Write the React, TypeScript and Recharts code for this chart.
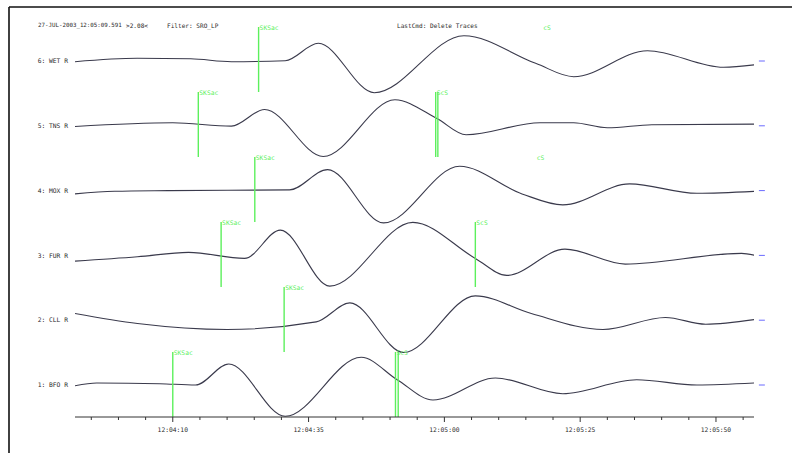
import React from 'react';
import { LineChart, Line, XAxis, YAxis, ReferenceLine } from 'recharts';

// ---- Data (time = seconds after 12:04:00, amplitude in display counts) ----
const traceNames = ['1: BFO R', '2: CLL R', '3: FUR R', '4: MOX R', '5: TNS R', '6: WET R'];

const bfoTime = [-8, -4, 7.6, 14.2, 20.3, 30.7, 44.7, 51.3, 57.9, 69.4, 81.8, 95.4, 106.5, 117.2];
const bfoAmp = [-0.7, 2, 1.3, 0, 21, -31.3, 27.7, 5.3, -15, 7, -8.7, 5.3, 0, 2];

const cllTime = [-8, 3.5, 20.0, 36.4, 42.6, 52.5, 65.7, 76.0, 89.2, 100.7, 108.1, 117.2];
const cllAmp = [6.7, -3.3, -9.3, -1.7, 17.3, -32.3, 24.3, 6.7, -9.3, 2.7, -4, 0.7];

const furTime = [-8, 3.5, 12.9, 23.2, 29.8, 38.9, 54.2, 65.7, 71.5, 82.2, 93.3, 114.7, 117.2];
const furAmp = [-5.7, -1.4, 3, -3, 25.3, -30.7, 33, -3, -20, 6.3, -8.7, 2, 0];

const moxTime = [-8, -0.7, 9.2, 31.5, 38.5, 48.8, 62.8, 74.3, 81.8, 94.1, 106.5, 117.2];
const moxAmp = [-3.3, -0.7, 0, 0.7, 21, -32.3, 24.3, -3.3, -14.3, 6.7, -2.7, -0.7];

const tnsTime = [-8, 10.0, 20.8, 26.9, 37.7, 50.9, 58.7, 64.0, 77.6, 83.8, 90.0, 98.2, 117.2];
const tnsAmp = [-0.7, 3, -0.3, 16.3, -30.7, 26, 7, -9, 3, 3, -2, 1, 1.7];

const wetTime = [-8, 3.45, 13.3, 20.8, 30.7, 36.8, 47.1, 63.6, 76.8, 83.8, 97.4, 111.4, 117.2];
const wetAmp = [-0.7, 2.7, 2.2, -0.7, 0.3, 17.7, -31.7, 25.3, -2.3, -15.7, 10.3, -6.3, -3.7];

const traceTimes = [bfoTime, cllTime, furTime, moxTime, tnsTime, wetTime];
const traceAmps = [bfoAmp, cllAmp, furAmp, moxAmp, tnsAmp, wetAmp];

// phase picks
const phaseTrace = [6, 6, 5, 5, 5, 4, 4, 3, 3, 2, 1, 1, 1];
const phaseName = ['SKSac', 'cS', 'SKSac', 'ScS', 'ScS', 'SKSac', 'cS', 'SKSac', 'ScS', 'SKSac', 'SKSac', 'ScS', 'ScS'];
const phaseTime = [25.8, 78.0, 14.7, 58.4, 58.8, 25.1, 76.8, 18.9, 65.7, 30.5, 10.0, 51.0, 51.5];
const labelOnlyPhases = ['cS'];

// time axis
const axisTicks = [-5, 0, 5, 10, 15, 20, 25, 30, 35, 40, 45, 50, 55, 60, 65, 70, 75, 80, 85, 90, 95, 100, 105, 110, 115];
const majorTickValues = [10, 35, 60, 85, 110];
const majorTickLabels = ['12:04:10', '12:04:35', '12:05:00', '12:05:25', '12:05:50'];

const headerDate = '27-JUL-2003_12:05:09.591';
const headerGain = '>2.08<';
const headerFilter = 'Filter: SRO_LP';
const headerCmd = 'LastCmd: Delete Traces';

// ---- layout constants ----
const BAND = 65;
const SPACING = 64.8;
const BASE0 = 32;
const T_MIN = -8;
const T_MAX = 117;
const baselines = traceNames.map((_, i) => BASE0 + i * SPACING);

const traceData = traceTimes.map((times, i) =>
  times.map((t, j) => ({ t, v: baselines[i] + traceAmps[i][j] }))
);

const FONT = '"DejaVu Sans Mono", monospace';
const TRACE_COLOR = '#3a3a4c';
const GREEN = '#5cf05c';
const TEXT_COLOR = '#2a2a2a';

const TimeTick = (props: any) => {
  const { x, y, payload } = props;
  const idx = majorTickValues.indexOf(payload.value);
  const major = idx >= 0;
  return (
    <g>
      <line x1={x} x2={x} y1={y} y2={y + (major ? 5 : 3)} stroke="#333" strokeWidth={1} />
      {major && (
        <text x={x} y={y + 12} textAnchor="middle" dominantBaseline="central" fontSize={6.3} fontFamily={FONT} fill={TEXT_COLOR}>
          {majorTickLabels[idx]}
        </text>
      )}
    </g>
  );
};

const PhaseLabel = (props: any) => {
  const { viewBox, text } = props;
  if (!viewBox || !text) return null;
  return (
    <text x={viewBox.x + 1} y={viewBox.y} dominantBaseline="central" fontSize={6.3} fontFamily={FONT} fill={GREEN}>
      {text}
    </text>
  );
};

export default function App() {
  return (
    <div style={{ position: 'absolute', left: 0, top: 0, width: 792, height: 453, background: '#fff' }}>
      <LineChart width={792} height={453} margin={{ top: 27, right: 38, left: 0, bottom: 16 }}>
        <XAxis
          type="number"
          dataKey="t"
          domain={[T_MIN, T_MAX]}
          ticks={axisTicks}
          interval={0}
          height={20}
          tickSize={0}
          tickMargin={0}
          tickLine={false}
          axisLine={{ stroke: '#333', strokeWidth: 1 }}
          tick={<TimeTick />}
          allowDataOverflow
        />
        <YAxis
          type="number"
          domain={[0, BAND * 6]}
          ticks={baselines}
          interval={0}
          width={75}
          tickSize={0}
          tickMargin={7}
          axisLine={false}
          tickLine={false}
          tickFormatter={(_v: number, i: number) => traceNames[i]}
          tick={{ fontSize: 6.3, fontFamily: FONT, fill: TEXT_COLOR }}
          allowDataOverflow
        />
        {traceData.map((d, i) => (
          <Line
            key={traceNames[i]}
            data={d}
            dataKey="v"
            type="monotone"
            stroke={TRACE_COLOR}
            strokeWidth={1.1}
            dot={false}
            activeDot={false}
            isAnimationActive={false}
          />
        ))}
        {phaseTime.map((t, i) => {
          const k = phaseTrace[i] - 1;
          const hidden = labelOnlyPhases.includes(phaseName[i]);
          const repeat = i > 0 && phaseTrace[i - 1] === phaseTrace[i] && phaseName[i - 1] === phaseName[i];
          return (
            <ReferenceLine
              key={'ph' + i}
              segment={[
                { x: t, y: (k + 1) * BAND },
                { x: t, y: k * BAND },
              ]}
              stroke={hidden ? 'none' : GREEN}
              strokeWidth={1.4}
              ifOverflow="visible"
              label={<PhaseLabel text={repeat ? '' : phaseName[i]} />}
            />
          );
        })}
        {baselines.map((b, i) => (
          <ReferenceLine
            key={'mk' + i}
            segment={[
              { x: 117.9, y: b },
              { x: 119.0, y: b },
            ]}
            stroke="#6b6bff"
            strokeWidth={1}
            ifOverflow="visible"
          />
        ))}
      </LineChart>
      <svg width={792} height={453} style={{ position: 'absolute', left: 0, top: 0, pointerEvents: 'none' }}>
        <line x1={9} y1={7} x2={792} y2={7} stroke="#111" strokeWidth={1.6} />
        <line x1={9} y1={7} x2={9} y2={453} stroke="#111" strokeWidth={1.6} />
        <g fontFamily={FONT} fill={TEXT_COLOR} dominantBaseline="central">
          <text x={38} y={25} fontSize={5.8}>{headerDate}</text>
          <text x={126} y={25} fontSize={6.1}>{headerGain}</text>
          <text x={167} y={25} fontSize={6.1}>{headerFilter}</text>
          <text x={397} y={25} fontSize={6.1}>{headerCmd}</text>
        </g>
      </svg>
    </div>
  );
}
